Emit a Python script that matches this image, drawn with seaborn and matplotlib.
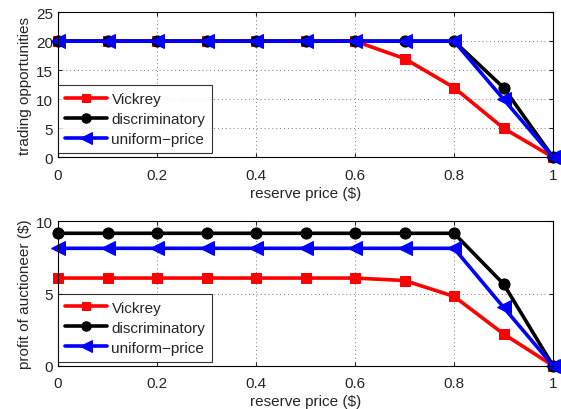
import numpy as np
import pandas as pd
import seaborn as sns
import matplotlib
matplotlib.use("Agg")
import matplotlib.pyplot as plt

reserve = [0, 0.1, 0.2, 0.3, 0.4, 0.5, 0.6, 0.7, 0.8, 0.9, 1.0]
series_names = ["Vickrey", "discriminatory", "uniform\u2212price"]

trade_vickrey = [20, 20, 20, 20, 20, 20, 20, 17, 12, 5, 0]
trade_discrim = [20, 20, 20, 20, 20, 20, 20, 20, 20, 12, 0]
trade_uniform = [20, 20, 20, 20, 20, 20, 20, 20, 20, 10, 0]

profit_vickrey = [6.07, 6.07, 6.07, 6.07, 6.07, 6.07, 6.07, 5.9, 4.8, 2.2, 0]
profit_discrim = [9.17, 9.17, 9.17, 9.17, 9.17, 9.17, 9.17, 9.17, 9.17, 5.66, 0]
profit_uniform = [8.13, 8.13, 8.13, 8.13, 8.13, 8.13, 8.13, 8.13, 8.13, 4.04, 0]

colors = ["#ff0000", "#000000", "#0000ff"]
markers = ["s", "o", "<"]
msizes = [7.5, 8, 10.5]

sns.set_style("white")
plt.rcParams["font.family"] = ["Liberation Sans", "DejaVu Sans"]
plt.rcParams["font.size"] = 11

def make_df(a, b, c):
    rows = []
    for name, vals in zip(series_names, [a, b, c]):
        for x, y in zip(reserve, vals):
            rows.append({"reserve": x, "value": y, "auction": name})
    return pd.DataFrame(rows)

fig = plt.figure(figsize=(5.61, 4.10), dpi=100)
ax1 = fig.add_axes([0.1034, 0.614, 0.8824, 0.354])
ax2 = fig.add_axes([0.1034, 0.1056, 0.8824, 0.3522])

panels = [
    (ax1, make_df(trade_vickrey, trade_discrim, trade_uniform), "trading opportunities", (0, 25), [0, 5, 10, 15, 20, 25]),
    (ax2, make_df(profit_vickrey, profit_discrim, profit_uniform), "profit of auctioneer ($)", (0, 10), [0, 5, 10]),
]

for ax, df, ylabel, ylim, yticks in panels:
    for name, col, mk, ms in zip(series_names, colors, markers, msizes):
        sub = df[df["auction"] == name]
        sns.lineplot(data=sub, x="reserve", y="value", ax=ax, color=col,
                     marker=mk, markersize=ms, linewidth=2.6,
                     markeredgecolor=col, label=name)
    ax.set_xlim(0, 1)
    ax.set_ylim(*ylim)
    ax.set_yticks(yticks)
    ax.set_xticks([0, 0.2, 0.4, 0.6, 0.8, 1.0])
    ax.set_xticklabels(["0", "0.2", "0.4", "0.6", "0.8", "1"])
    ax.grid(True, color="#777777", linestyle=(0, (1, 3)), linewidth=0.7)
    ax.set_xlabel("reserve price ($)", fontsize=11, labelpad=3)
    ax.set_ylabel(ylabel, fontsize=11, labelpad=3)
    for s in ax.spines.values():
        s.set_color("black")
        s.set_linewidth(0.8)
        s.set_visible(True)
    ax.tick_params(axis="x", which="both", direction="in", length=3,
                   labelsize=11, pad=7.5, top=True, bottom=True)
    ax.tick_params(axis="y", which="both", direction="in", length=3,
                   labelsize=11, pad=3.5, left=True, right=True)
    for m in ax.lines:
        m.set_clip_on(False)
    leg = ax.legend(loc="lower left", bbox_to_anchor=(0.0, 0.028), borderaxespad=0.0,
                    fontsize=11, frameon=True, fancybox=False, edgecolor="black",
                    handlelength=2.75, labelspacing=0.4, borderpad=0.45,
                    handletextpad=0.3, markerscale=0.85)
    leg.get_frame().set_linewidth(0.8)

fig.savefig("out.png", dpi=100)
